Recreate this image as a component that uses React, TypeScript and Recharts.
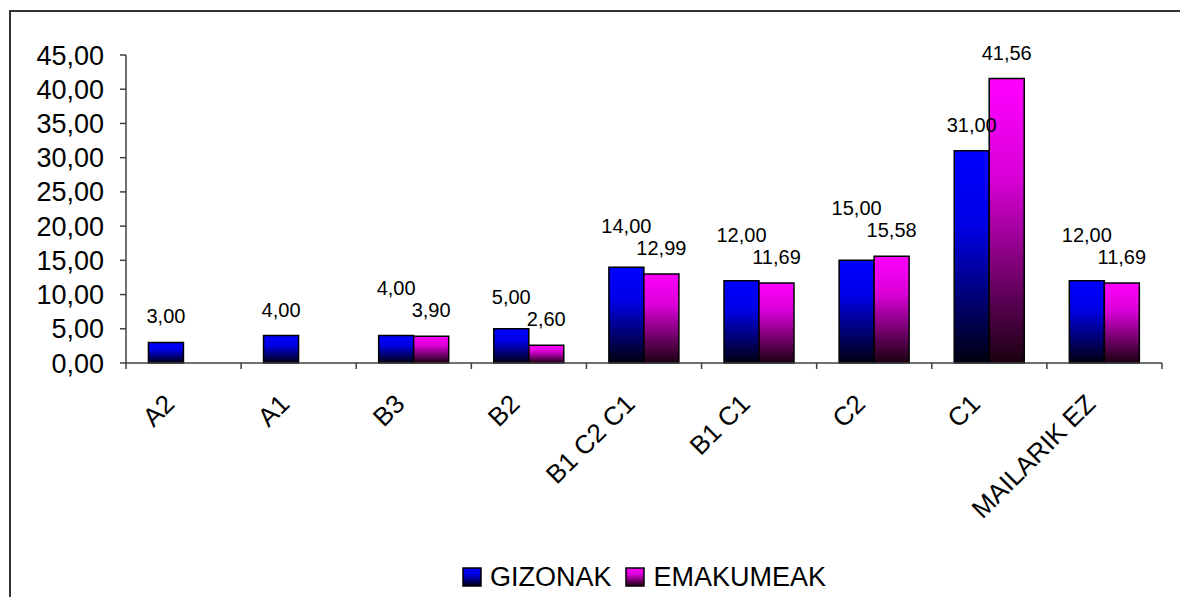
import { BarChart, Bar, XAxis, YAxis, Legend, LabelList } from 'recharts';

const categories = ['A2', 'A1', 'B3', 'B2', 'B1 C2 C1', 'B1 C1', 'C2', 'C1', 'MAILARIK EZ'];
const gizonak = [3, 4, 4, 5, 14, 12, 15, 31, 12];
const emakumeak = [null, null, 3.9, 2.6, 12.99, 11.69, 15.58, 41.56, 11.69];
const yTicks = [0, 5, 10, 15, 20, 25, 30, 35, 40, 45];

const chartData = categories.map((cat, i) => ({
  cat,
  gizonak: gizonak[i],
  emakumeak: emakumeak[i],
}));

const W = 1180;
const H = 597;
const margin = { top: 55, right: 18, bottom: 5, left: 0 };
const Y_AXIS_W = 126;
const LEGEND_H = 30;
const X_AXIS_H = 199;
const PLOT_W = W - margin.left - margin.right - Y_AXIS_W;
const AXIS_Y = H - margin.bottom - LEGEND_H - X_AXIS_H;
const LABEL_GAP = 26; // distance from bar top to label centre
const LABEL_CLEAR = 22; // min vertical distance between neighbour labels

const fmt = (v: any) => (v == null ? '' : Number(v).toFixed(2).replace('.', ','));

const XTick = (props: any) => {
  const { x, payload, index } = props;
  const bw = PLOT_W / categories.length;
  const lx = x - bw / 2;
  const tx = x - 14;
  const ty = AXIS_Y + 36;
  return (
    <g>
      <line x1={lx} x2={lx} y1={AXIS_Y} y2={AXIS_Y + 6} stroke="#404040" strokeWidth={1.5} />
      {index === categories.length - 1 && (
        <line x1={x + bw / 2} x2={x + bw / 2} y1={AXIS_Y} y2={AXIS_Y + 6} stroke="#404040" strokeWidth={1.5} />
      )}
      <text
        x={tx}
        y={ty}
        dy="0.35em"
        textAnchor="end"
        fontSize={26}
        fill="#000"
        transform={`rotate(-45 ${tx} ${ty})`}
      >
        {payload.value}
      </text>
    </g>
  );
};

// women's labels sit right above their bars
const PinkLabel = (props: any) => {
  const { x, y, width, value } = props;
  if (value == null) return null;
  return (
    <text x={x + width / 2} y={y - LABEL_GAP} dy="0.35em" textAnchor="middle" fontSize={20} fill="#000">
      {fmt(value)}
    </text>
  );
};

// men's labels get pushed up when they would run into the neighbour label
const BlueLabel = (props: any) => {
  const { x, y, width, height, value, index } = props;
  if (value == null) return null;
  let ly = y - LABEL_GAP;
  const pv = emakumeak[index];
  if (pv != null && value) {
    const perUnit = height / value;
    const pinkLy = y + height - pv * perUnit - LABEL_GAP;
    if (Math.abs(pinkLy - ly) < LABEL_CLEAR) ly = Math.min(ly, pinkLy - LABEL_CLEAR);
  }
  return (
    <text x={x + width / 2} y={ly} dy="0.35em" textAnchor="middle" fontSize={20} fill="#000">
      {fmt(value)}
    </text>
  );
};

const LegendBox = () => {
  const items = [
    { name: 'GIZONAK', grad: 'gradBlue' },
    { name: 'EMAKUMEAK', grad: 'gradPink' },
  ];
  return (
    <div style={{ display: 'flex', justifyContent: 'center', alignItems: 'center', gap: 14, height: LEGEND_H, fontSize: 27 }}>
      {items.map((it) => (
        <div key={it.name} style={{ display: 'flex', alignItems: 'center' }}>
          <svg width={20} height={20} style={{ marginRight: 8 }}>
            <rect x={1} y={1} width={18} height={18} fill={`url(#${it.grad})`} stroke="#000" strokeWidth={1.5} />
          </svg>
          <span>{it.name}</span>
        </div>
      ))}
    </div>
  );
};

const App = () => {
  return (
    <div
      style={{
        position: 'fixed',
        left: 0,
        top: 0,
        width: W,
        height: H,
        overflow: 'hidden',
        background: '#fff',
        fontFamily: "Arial, 'Liberation Sans', sans-serif",
      }}
    >
      <div
        style={{
          position: 'absolute',
          left: 9,
          top: 10,
          width: 1300,
          height: 800,
          borderLeft: '2px solid #333',
          borderTop: '2px solid #333',
        }}
      />
      <div style={{ position: 'absolute', left: 0, top: 0 }}>
        <BarChart width={W} height={H} data={chartData} margin={margin} barCategoryGap="19.5%" barGap={0}>
          <defs>
            <linearGradient id="gradBlue" x1="0" y1="0" x2="0" y2="1">
              <stop offset="0" stopColor="#0000ff" />
              <stop offset="0.35" stopColor="#0000e6" />
              <stop offset="1" stopColor="#000010" />
            </linearGradient>
            <linearGradient id="gradPink" x1="0" y1="0" x2="0" y2="1">
              <stop offset="0" stopColor="#ff00ff" />
              <stop offset="0.35" stopColor="#d900d6" />
              <stop offset="1" stopColor="#1a0010" />
            </linearGradient>
          </defs>
          <XAxis
            dataKey="cat"
            interval={0}
            height={X_AXIS_H}
            tickLine={false}
            axisLine={{ stroke: '#404040', strokeWidth: 1.5 }}
            tick={<XTick />}
          />
          <XAxis xAxisId="top" dataKey="cat" orientation="top" height={0} tick={false} tickLine={false} axisLine={{ stroke: '#808080', strokeWidth: 1.5 }} />
          <YAxis
            domain={[0, 45]}
            ticks={yTicks}
            interval={0}
            width={Y_AXIS_W}
            tickFormatter={fmt}
            tickSize={6}
            tickMargin={16}
            tick={{ fontSize: 27, fill: '#000' }}
            tickLine={{ stroke: '#404040', strokeWidth: 1.5 }}
            axisLine={{ stroke: '#404040', strokeWidth: 1.5 }}
          />
          <YAxis yAxisId="r" orientation="right" domain={[0, 45]} width={0} tick={false} tickLine={false} axisLine={{ stroke: '#808080', strokeWidth: 1.5 }} />
          <Legend
            verticalAlign="bottom"
            height={LEGEND_H}
            content={<LegendBox />}
            wrapperStyle={{ left: Y_AXIS_W, width: PLOT_W }}
          />
          <Bar dataKey="gizonak" name="GIZONAK" fill="url(#gradBlue)" stroke="#000" strokeWidth={1.5} isAnimationActive={false}>
            <LabelList dataKey="gizonak" content={<BlueLabel />} />
          </Bar>
          <Bar dataKey="emakumeak" name="EMAKUMEAK" fill="url(#gradPink)" stroke="#000" strokeWidth={1.5} isAnimationActive={false}>
            <LabelList dataKey="emakumeak" content={<PinkLabel />} />
          </Bar>
        </BarChart>
      </div>
    </div>
  );
};

export default App;
